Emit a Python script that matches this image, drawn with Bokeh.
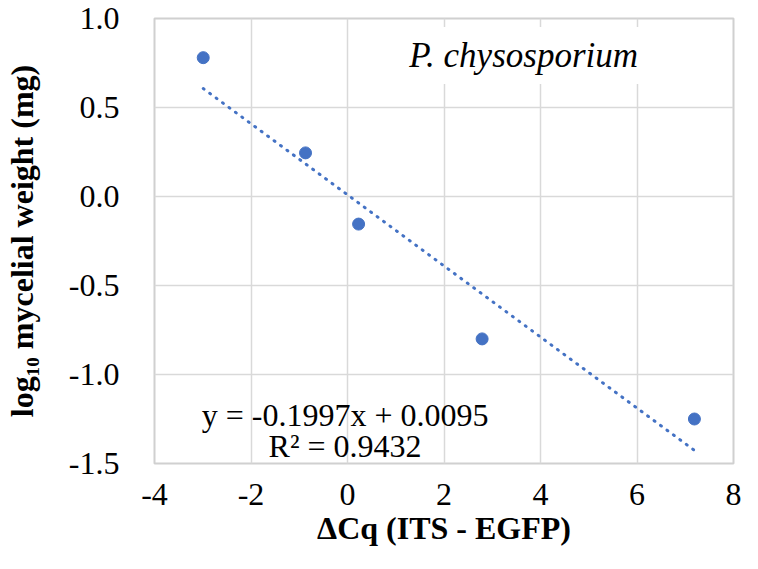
from bokeh.plotting import figure
from bokeh.models import FixedTicker, Label, Range1d, ColumnDataSource
from bokeh.embed import file_html
from bokeh.resources import INLINE

# ---- data ----
delta_cq = [-2.99, -0.87, 0.23, 2.79, 7.19]
log_weight = [0.78, 0.245, -0.155, -0.80, -1.25]
slope = -0.1997
intercept = 0.0095
r_squared = 0.9432
x_ticks = [-4, -2, 0, 2, 4, 6, 8]
x_tick_labels = ["-4", "-2", "0", "2", "4", "6", "8"]
y_ticks = [-1.5, -1.0, -0.5, 0.0, 0.5, 1.0]
y_tick_labels = ["-1.5", "-1.0", "-0.5", "0.0", "0.5", "1.0"]
species = "P. chysosporium"
x_title = "ΔCq (ITS - EGFP)"
y_title = "log₁₀ mycelial weight (mg)"

FONT = "Liberation Serif"
BLUE = "#4472C4"
GRID = "#d9d9d9"

p = figure(frame_width=579, frame_height=445,
           min_border_left=154, min_border_right=9,
           min_border_top=18, min_border_bottom=90,
           x_range=Range1d(-4, 8), y_range=Range1d(-1.5, 1.0),
           output_backend="svg", toolbar_location=None,
           background_fill_color="white", border_fill_color="white")

p.outline_line_color = "#d0d0d0"
p.outline_line_width = 2

for ax in (p.xaxis[0], p.yaxis[0]):
    ax.axis_line_color = None
    ax.major_tick_line_color = None
    ax.minor_tick_line_color = None
    ax.major_tick_in = 0
    ax.major_tick_out = 0
    ax.major_label_text_font = FONT
    ax.major_label_text_font_size = "32px"
    ax.major_label_text_color = "black"
    ax.axis_label_text_font = FONT
    ax.axis_label_text_font_size = "32px"
    ax.axis_label_text_font_style = "bold"
    ax.axis_label_text_color = "black"

p.xaxis.ticker = FixedTicker(ticks=x_ticks)
p.xaxis.major_label_overrides = dict(zip(x_ticks, x_tick_labels))
p.yaxis.ticker = FixedTicker(ticks=y_ticks)
p.yaxis.major_label_overrides = dict(zip(y_ticks, y_tick_labels))
p.xaxis.major_label_standoff = 20
p.yaxis.major_label_standoff = 35
p.xaxis.axis_label = x_title
p.yaxis.axis_label = y_title
p.xaxis.axis_label_standoff = 2
p.yaxis.axis_label_standoff = 26

p.xgrid.grid_line_color = GRID
p.ygrid.grid_line_color = GRID
p.xgrid.grid_line_width = 1.5
p.ygrid.grid_line_width = 1.5
p.xgrid.ticker = FixedTicker(ticks=x_ticks)
p.ygrid.ticker = FixedTicker(ticks=y_ticks)

# trendline over data extent
x_fit = [min(delta_cq), max(delta_cq)]
y_fit = [slope * v + intercept for v in x_fit]
p.line(x_fit, y_fit, line_color=BLUE, line_width=3, line_dash="1 7",
       line_cap="round")

src = ColumnDataSource(data=dict(x=delta_cq, y=log_weight))
p.scatter("x", "y", source=src, size=12, fill_color=BLUE, line_color=BLUE)

eq_line1 = "y = %.4fx + %.4f" % (slope, intercept)
eq_line2 = "R² = %.4f" % r_squared
eq_lines = ((eq_line1, -1.225), (eq_line2, -1.404))
# white backing boxes first, then the text on top
for txt, yy in eq_lines:
    p.add_layout(Label(x=-0.05, y=yy, text=txt, text_align="center",
                       text_baseline="alphabetic", text_font=FONT,
                       text_font_size="32px", text_alpha=0.0,
                       background_fill_color="white", padding=6))
for txt, yy in eq_lines:
    p.add_layout(Label(x=-0.05, y=yy, text=txt, text_align="center",
                       text_baseline="alphabetic", text_font=FONT,
                       text_font_size="32px", text_color="black"))

title = Label(x=3.65, y=0.792, text=species, text_align="center",
              text_baseline="alphabetic", text_font=FONT,
              text_font_size="35px", text_font_style="italic",
              text_color="black", background_fill_color="white", padding=9)
p.add_layout(title)

open("out.html", "w").write(file_html(p, INLINE))
